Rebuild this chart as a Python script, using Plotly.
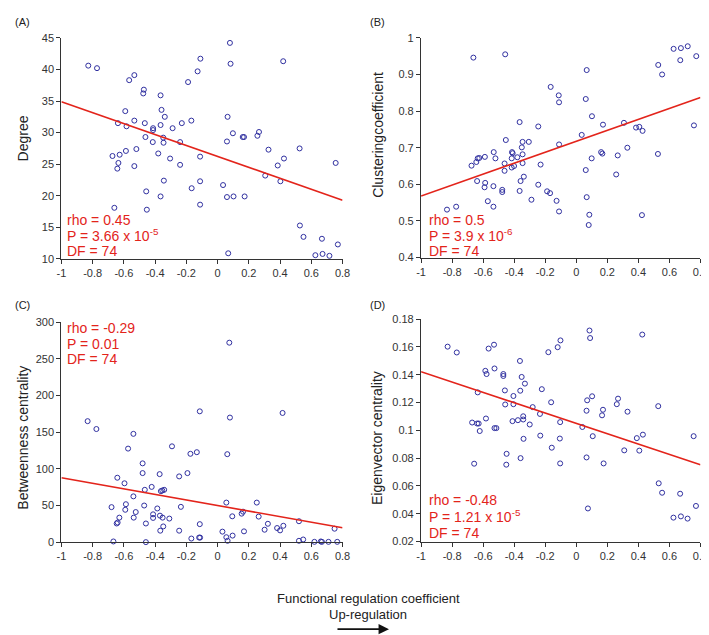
import plotly.graph_objects as go

# ---------------- data ----------------
x_A = [-0.828,-0.772,-0.566,-0.533,-0.472,-0.476,-0.365,-0.359,-0.338,-0.591,-0.533,-0.638,-0.583,-0.466,-0.365,-0.413,-0.413,-0.288,-0.229,-0.168,-0.462,-0.348,-0.346,-0.415,-0.240,-0.520,-0.587,-0.673,-0.627,-0.635,-0.642,-0.533,-0.380,-0.304,-0.240,-0.112,-0.344,-0.112,-0.457,-0.166,-0.365,-0.112,-0.661,-0.453,-0.189,-0.128,-0.110,
       0.079,0.083,0.420,0.064,0.098,0.060,0.161,0.169,0.265,0.255,0.326,0.525,0.425,0.385,0.756,0.305,0.402,0.035,0.060,0.102,0.173,0.527,0.550,0.668,0.770,0.068,0.626,0.672,0.716]
y_A = [40.6,40.2,38.3,39.1,36.8,36.2,35.9,33.6,32.5,33.4,31.9,31.5,31.0,31.5,31.2,30.7,30.4,30.7,31.5,31.9,29.3,29.2,28.4,28.5,28.5,27.4,27.1,26.3,26.5,25.2,24.3,24.7,26.7,25.9,24.9,26.2,22.4,22.3,20.7,21.2,19.9,18.6,18.1,17.8,38.0,39.7,41.7,
       44.2,40.9,41.3,32.5,29.9,28.6,29.3,29.3,30.1,29.5,27.3,27.5,25.9,24.8,25.2,23.2,22.3,21.7,19.8,19.9,19.9,15.3,13.5,13.2,12.3,10.9,10.6,10.8,10.5]

x_B = [-0.663,-0.458,-0.833,-0.774,-0.675,-0.644,-0.635,-0.625,-0.589,-0.639,-0.587,-0.591,-0.570,-0.534,-0.534,-0.532,-0.521,-0.477,-0.477,-0.462,-0.462,-0.454,-0.414,-0.410,-0.416,-0.416,-0.401,-0.380,-0.365,-0.346,-0.351,-0.306,-0.346,-0.346,-0.338,-0.359,-0.365,-0.289,-0.245,-0.245,
       -0.230,-0.165,-0.113,-0.111,-0.111,-0.188,-0.169,-0.127,-0.111,0.067,0.061,0.101,0.035,0.172,0.160,0.168,0.099,0.061,0.067,0.084,0.080,0.267,0.257,0.307,0.329,0.385,0.406,0.427,0.423,0.526,0.528,0.553,0.627,0.674,0.718,0.670,0.773,0.758]
y_B = [0.946,0.955,0.531,0.539,0.651,0.661,0.671,0.672,0.675,0.609,0.604,0.592,0.554,0.539,0.595,0.688,0.671,0.585,0.579,0.657,0.637,0.721,0.688,0.685,0.671,0.646,0.650,0.674,0.770,0.716,0.701,0.716,0.682,0.658,0.621,0.609,0.582,0.558,0.758,0.599,
       0.654,0.866,0.843,0.824,0.709,0.581,0.576,0.555,0.526,0.912,0.833,0.786,0.735,0.763,0.688,0.684,0.671,0.639,0.565,0.517,0.489,0.679,0.627,0.768,0.700,0.755,0.757,0.746,0.516,0.683,0.926,0.900,0.970,0.972,0.977,0.939,0.950,0.761]

x_C = [-0.832,-0.776,-0.539,-0.573,-0.480,-0.480,-0.371,-0.642,-0.596,-0.422,-0.466,-0.363,-0.342,-0.354,-0.539,-0.246,-0.193,-0.292,-0.174,-0.133,-0.114,-0.679,-0.587,-0.591,-0.524,-0.537,-0.629,-0.640,-0.646,-0.470,-0.386,-0.413,-0.413,-0.369,-0.352,-0.309,-0.235,-0.367,-0.348,-0.246,-0.459,-0.114,-0.168,-0.118,-0.112,-0.667,-0.459,
       0.075,0.079,0.416,0.062,0.056,0.251,0.094,0.154,0.163,0.263,0.322,0.301,0.169,0.031,0.056,0.096,0.064,0.381,0.400,0.421,0.521,0.521,0.548,0.620,0.661,0.668,0.710,0.766,0.749]
y_C = [164.9,154.2,147.6,127.5,107.4,94.1,92.7,87.8,80.2,75.3,71.3,69.5,71.3,70.4,62.4,89.6,94.1,130.6,120.4,122.6,178.3,47.7,51.7,44.1,41.0,33.4,33.4,26.7,25.4,49.9,45.9,37.9,33.0,36.1,33.4,32.1,48.1,15.6,21.4,15.6,25.4,24.5,4.9,6.2,6.2,0.9,0.0,
       271.9,169.8,176.1,119.9,53.9,53.9,35.2,38.8,41.5,34.8,25.0,16.9,14.7,14.3,6.7,8.9,1.8,19.2,16.0,22.3,28.5,1.8,3.6,0.4,0.9,0.4,0.4,0.4,18.3]

x_D = [-0.829,-0.770,-0.565,-0.530,-0.363,-0.586,-0.578,-0.527,-0.470,-0.470,-0.352,-0.331,-0.361,-0.460,-0.405,-0.635,-0.458,-0.405,-0.281,-0.671,-0.639,-0.629,-0.582,-0.622,-0.527,-0.515,-0.411,-0.376,-0.342,-0.342,-0.300,-0.340,-0.449,-0.359,-0.658,-0.451,
       -0.222,-0.234,-0.232,-0.162,-0.158,-0.180,-0.120,-0.102,-0.104,-0.106,-0.104,
       0.085,0.089,0.425,0.070,0.102,0.066,0.172,0.166,0.039,0.106,0.066,0.176,0.075,0.269,0.261,0.330,0.309,0.390,0.429,0.406,0.528,0.531,0.553,0.669,0.771,0.626,0.674,0.717,0.756]
y_D = [0.1602,0.1560,0.1588,0.1616,0.1499,0.1428,0.1405,0.1445,0.1405,0.1391,0.1384,0.1336,0.1285,0.1287,0.1247,0.1273,0.1186,0.1188,0.1167,0.1056,0.1049,0.1049,0.1085,0.0995,0.1016,0.1016,0.1066,0.1073,0.1101,0.1078,0.1042,0.0939,0.0831,0.0800,0.0760,0.0753,
       0.1296,0.1118,0.0962,0.1202,0.0875,0.1562,0.1598,0.1647,0.1059,0.0941,0.0762,
       0.1718,0.1664,0.1689,0.1216,0.1245,0.1141,0.1148,0.1108,0.1024,0.0958,0.0805,0.0762,0.0438,0.1228,0.1188,0.1134,0.0856,0.0944,0.0969,0.0854,0.1174,0.0619,0.0551,0.0544,0.0456,0.0372,0.0381,0.0365,0.0958]

fit_x = [-1.0, 0.8]
fit_A = [34.9, 19.3]
fit_B = [0.568, 0.837]
fit_C = [87.8, 19.6]
fit_D = [0.1421, 0.0753]

x_ticks = [-1, -0.8, -0.6, -0.4, -0.2, 0, 0.2, 0.4, 0.6, 0.8]
x_tick_labels = ["-1", "-0.8", "-0.6", "-0.4", "-0.2", "0", "0.2", "0.4", "0.6", "0.8"]
y_ticks_A = [10, 15, 20, 25, 30, 35, 40, 45]
y_ticks_B = [0.4, 0.5, 0.6, 0.7, 0.8, 0.9, 1.0]
y_tick_labels_B = ["0.4", "0.5", "0.6", "0.7", "0.8", "0.9", "1"]
y_ticks_C = [0, 50, 100, 150, 200, 250, 300]
y_ticks_D = [0.02, 0.04, 0.06, 0.08, 0.1, 0.12, 0.14, 0.16, 0.18]
y_tick_labels_D = ["0.02", "0.04", "0.06", "0.08", "0.1", "0.12", "0.14", "0.16", "0.18"]

titles = ["Degree", "Clusteringcoefficient", "Betweenness centrality", "Eigenvector centrality"]
panel_labels = ["(A)", "(B)", "(C)", "(D)"]
stats = [
    ["rho = 0.45", "P = 3.66 x 10<sup>-5</sup>", "DF = 74"],
    ["rho = 0.5", "P = 3.9 x 10<sup>-6</sup>", "DF = 74"],
    ["rho = -0.29", "P = 0.01", "DF = 74"],
    ["rho = -0.48", "P = 1.21 x 10<sup>-5</sup>", "DF = 74"],
]

# ---------------- figure ----------------
W, H = 709, 635
FONT = "Liberation Sans, Arial, sans-serif"
MARK = "#3030a0"
RED = "#e3241b"

def px(x):
    return x / W

def py(y):
    return 1 - y / H

# pixel boxes: (left, right, top, bottom)
boxes = [
    (49.3, 335.7, 24.3, 249.7),
    (415.7, 700.3, 24.3, 248.3),
    (49.3, 335.7, 314.0, 538.3),
    (415.7, 700.3, 311.0, 537.7),
]
ranges = [[10, 45], [0.4, 1.0], [0, 300], [0.02, 0.18]]
yticks = [(y_ticks_A, [str(v) for v in y_ticks_A]),
          (y_ticks_B, y_tick_labels_B),
          (y_ticks_C, [str(v) for v in y_ticks_C]),
          (y_ticks_D, y_tick_labels_D)]
xs = [x_A, x_B, x_C, x_D]
ys = [y_A, y_B, y_C, y_D]
fits = [fit_A, fit_B, fit_C, fit_D]

fig = go.Figure()
layout = dict(width=W, height=H, margin=dict(l=0, r=0, t=0, b=0),
              paper_bgcolor="white", plot_bgcolor="white", showlegend=False,
              font=dict(family=FONT, color="#222"))
annotations = []

for i in range(4):
    n = i + 1
    xa = "x" if n == 1 else f"x{n}"
    ya = "y" if n == 1 else f"y{n}"
    l, r, t, b = boxes[i]
    axis_common = dict(showline=True, linecolor="#333", linewidth=1.3, ticks="outside",
                       ticklen=4, tickwidth=1.2, tickcolor="#333", showgrid=False, zeroline=False,
                       tickfont=dict(family=FONT, size=11, color="#333"))
    layout["xaxis" if n == 1 else f"xaxis{n}"] = dict(
        domain=[px(l), px(r)], range=[-1, 0.8], anchor=ya,
        tickvals=x_ticks, ticktext=x_tick_labels, **axis_common)
    layout["yaxis" if n == 1 else f"yaxis{n}"] = dict(
        domain=[py(b), py(t)], range=ranges[i], anchor=xa,
        tickvals=yticks[i][0], ticktext=yticks[i][1], **axis_common)

    fig.add_trace(go.Scatter(x=xs[i], y=ys[i], mode="markers", xaxis=xa, yaxis=ya,
                             cliponaxis=False,
                             marker=dict(symbol="circle-open", size=5, color=MARK,
                                         line=dict(width=1, color=MARK))))
    fig.add_trace(go.Scatter(x=fit_x, y=fits[i], mode="lines", xaxis=xa, yaxis=ya,
                             line=dict(color=RED, width=1.6)))

# y titles
title_pos = [(10, 127), (371, 123), (10, 432), (371, 432)]
for i, (tx, ty) in enumerate(title_pos):
    annotations.append(dict(text=titles[i], x=px(tx), y=py(ty), xref="paper", yref="paper",
                            showarrow=False, textangle=-90, xanchor="center", yanchor="middle",
                            font=dict(family=FONT, size=14, color="#222")))

# panel labels
lab_pos = [(0, 8), (362, 8), (0, 297), (362, 297)]
for i, (tx, ty) in enumerate(lab_pos):
    annotations.append(dict(text=panel_labels[i], x=px(tx), y=py(ty), xref="paper", yref="paper",
                            showarrow=False, xanchor="left", yanchor="middle",
                            font=dict(family=FONT, size=11, color="#222")))

# stats text
stat_pos = [(53, [209.5, 225, 241.5]), (422, [209.5, 225, 241.5]),
            (53, [320.5, 336, 352]), (422, [495.5, 511.5, 528.5])]
for i, (tx, tys) in enumerate(stat_pos):
    for j, ty in enumerate(tys):
        annotations.append(dict(text=stats[i][j], x=px(tx), y=py(ty), xref="paper", yref="paper",
                                showarrow=False, xanchor="left", yanchor="middle",
                                font=dict(family=FONT, size=14, color=RED)))

# bottom caption
annotations.append(dict(text="Functional regulation coefficient", x=px(362), y=py(596),
                        xref="paper", yref="paper", showarrow=False, xanchor="center",
                        yanchor="middle", font=dict(family=FONT, size=13, color="#222")))
annotations.append(dict(text="Up-regulation", x=px(362), y=py(612), xref="paper", yref="paper",
                        showarrow=False, xanchor="center", yanchor="middle",
                        font=dict(family=FONT, size=13, color="#222")))
annotations.append(dict(x=px(383), y=py(627), ax=-53, ay=0, xref="paper", yref="paper",
                        axref="pixel", ayref="pixel", text="", showarrow=True, arrowhead=2,
                        arrowsize=1.3, arrowwidth=1.6, arrowcolor="#111"))

layout["annotations"] = annotations
fig.update_layout(**layout)
fig.write_html("out.html")
